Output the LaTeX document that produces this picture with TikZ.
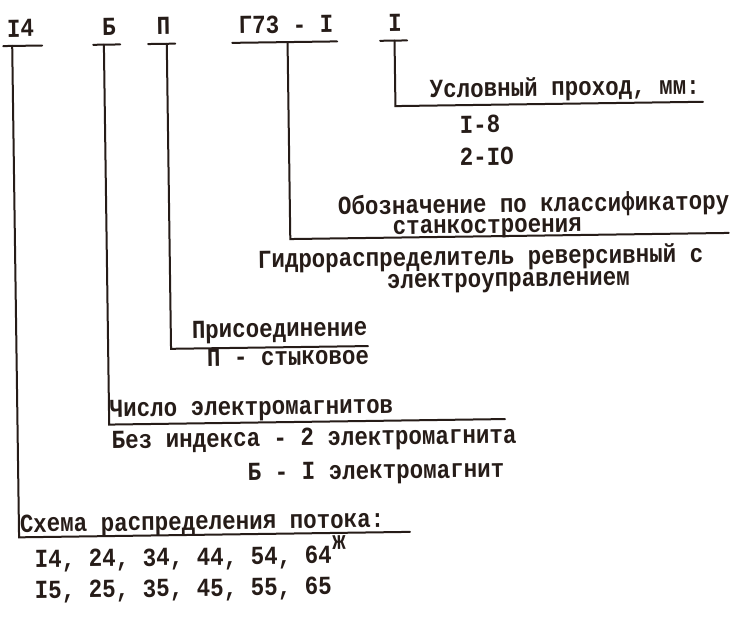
\documentclass[tikz,border=0pt]{standalone}
\usepackage{fontspec}
\newfontfamily\tw[FakeStretch=0.865]{Liberation Mono Bold}
\definecolor{ink}{RGB}{38,28,24}
\tikzset{
  lbl/.style={anchor=base west, inner sep=0pt, outer sep=0pt, font=\tw\fontsize{26}{26}\selectfont, text=ink, transform shape},
  toplbl/.style={lbl, anchor=base},
  ln/.style={draw=ink, line width=2pt, line cap=round}
}
\begin{document}
\begin{tikzpicture}[x=1pt,y=-1pt]
\fill[white] (0,0) rectangle (735,632);
\useasboundingbox (0,0) rectangle (735,632);
\begin{scope}[rotate around={0.8:(367,316)}]
% top code
\node[toplbl] (t1) at (24.5,32) {I4};
\node[toplbl] (t2) at (113,32) {Б};
\node[toplbl] (t3) at (167.5,32) {П};
\node[toplbl] (t4) at (290,32) {Г73 - I};
\node[toplbl] (t5) at (399,32) {I};
% underline ends
\coordinate (a1) at (7,41);   \coordinate (b1) at (46,41);
\coordinate (a2) at (97,41);  \coordinate (b2) at (124,41);
\coordinate (a3) at (152,41); \coordinate (b3) at (179,41);
\coordinate (a4) at (236,41); \coordinate (b4) at (341,41);
\coordinate (a5) at (384,41); \coordinate (b5) at (411,41);
% stems
\coordinate (s1) at (16,41);    \coordinate (e1) at (16,532.5);  \coordinate (f1) at (407,532.5);
\coordinate (s2) at (107.7,41); \coordinate (e2) at (107.7,421); \coordinate (f2) at (503.6,421);
\coordinate (s3) at (170.6,41); \coordinate (e3) at (170.6,346.1); \coordinate (f3) at (367.6,346.1);
\coordinate (s4) at (291.4,41); \coordinate (e4) at (291.4,238); \coordinate (f4) at (730,238);
\coordinate (s5) at (398.4,41); \coordinate (e5) at (398.4,106.5); \coordinate (f5) at (706,106.5);
\foreach \i in {1,...,5}{\draw[ln] (a\i) -- (b\i);}
\foreach \i in {1,...,5}{\draw[ln] (s\i) -- (e\i) -- (f\i);}
% descriptions
\node[lbl] (d5) at (433,98.5) {Условный проход, мм:};
\node[lbl] (d5a) at (462.5,134.6) {I-8};
\node[lbl] (d5b) at (462,166.7) {2-IO};
\node[lbl] (d4) at (339.5,214.4) {Обозначение по классификатору};
\node[lbl] (d4b) at (394,234.7) {станкостроения};
\node[lbl] (d4c) at (258.7,266.6) {Гидрораспределитель реверсивный с};
\node[lbl] (d4d) at (387.4,288.6) {электроуправлением};
\node[lbl] (d3) at (191.7,335.8) {Присоединение};
\node[lbl] (d3a) at (206.4,364) {П - стыковое};
\node[lbl] (d2) at (108.5,413.5) {Число электромагнитов};
\node[lbl] (d2a) at (110,445) {Без индекса - 2 электромагнита};
\node[lbl] (d2b) at (245.7,479) {Б - I электромагнит};
\node[lbl] (d1) at (17,527.5) {Схема распределения потока:};
\node[lbl] (d1a) at (31.5,563) {I4, 24, 34, 44, 54, 64};
\node[lbl] (d1s) at (329,549) {ж};
\node[lbl] (d1b) at (31,594) {I5, 25, 35, 45, 55, 65};
\end{scope}
\end{tikzpicture}
\end{document}
